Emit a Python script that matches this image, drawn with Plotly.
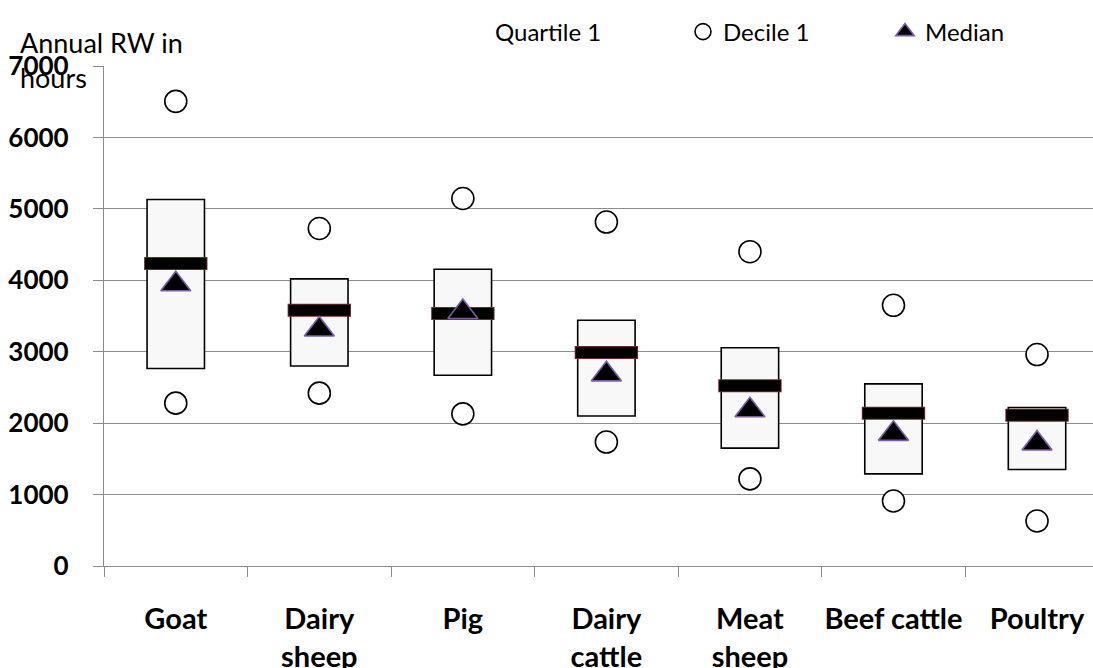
import plotly.graph_objects as go

# Annual RW (hours) distribution per livestock type
categories = ["Goat", "Dairy sheep", "Pig", "Dairy cattle", "Meat sheep", "Beef cattle", "Poultry"]
tick_labels = ["Goat", "Dairy<br>sheep", "Pig", "Dairy<br>cattle", "Meat<br>sheep", "Beef cattle", "Poultry"]

decile1 = [2280, 2420, 2130, 1735, 1220, 910, 630]
quartile1 = [2765, 2800, 2670, 2100, 1650, 1290, 1350]
quartile3 = [5130, 4020, 4155, 3440, 3055, 2550, 2220]
mean = [4235, 3580, 3535, 2990, 2525, 2140, 2112]
median = [3945, 3310, 3555, 2683, 2180, 1850, 1715]
decile9 = [6505, 4725, 5145, 4815, 4400, 3650, 2960]

y_ticks = [0, 1000, 2000, 3000, 4000, 5000, 6000, 7000]

FONT = "Lato"
GRID = "#8c8c8c"
SQRT2 = 2 ** 0.5

fig = go.Figure()

# invisible lower segment (0 -> Q1), only its legend label shows
fig.add_trace(go.Bar(
    x=categories, y=quartile1, width=0.4, name="Quartile 1",
    marker=dict(color="rgba(0,0,0,0)", line=dict(width=0)),
    hoverinfo="skip", legend="legend",
))

# interquartile box
fig.add_trace(go.Bar(
    x=categories, y=[q3 - q1 for q1, q3 in zip(quartile1, quartile3)], base=quartile1,
    width=0.4, name="Quartile 3", showlegend=False,
    marker=dict(color="#f8f8f8", line=dict(color="black", width=1.6)),
))

# mean bar: dark red rim under a black dash (line-ew spans size*sqrt2 px)
fig.add_trace(go.Scatter(
    x=categories, y=mean, mode="markers", showlegend=False, hoverinfo="skip",
    marker=dict(symbol="line-ew", size=64 / SQRT2, line=dict(color="#6b2a2a", width=13)),
))
fig.add_trace(go.Scatter(
    x=categories, y=mean, mode="markers", name="Mean", showlegend=False,
    marker=dict(symbol="line-ew", size=62 / SQRT2, line=dict(color="black", width=11)),
))

# deciles
fig.add_trace(go.Scatter(
    x=categories, y=decile1, mode="markers", name="Decile 1", legend="legend2",
    marker=dict(symbol="circle", size=22, color="white", line=dict(color="black", width=1.6)),
))
fig.add_trace(go.Scatter(
    x=categories, y=decile9, mode="markers", name="Decile 9", showlegend=False,
    marker=dict(symbol="circle", size=22, color="white", line=dict(color="black", width=1.6)),
))

# median
fig.add_trace(go.Scatter(
    x=categories, y=median, mode="markers", name="Median", legend="legend3",
    marker=dict(symbol="triangle-up", size=26, color="black", line=dict(color="#7a5ca8", width=1.6)),
))

legend_common = dict(
    orientation="h", yanchor="middle", y=1.068, xanchor="left",
    font=dict(family=FONT, size=24, color="black"), bgcolor="rgba(0,0,0,0)",
    itemwidth=30,
)

fig.update_layout(
    width=1093, height=668,
    margin=dict(l=104, r=0, t=66, b=102, autoexpand=False),
    paper_bgcolor="white", plot_bgcolor="white",
    barmode="overlay",
    font=dict(family=FONT, color="black"),
    legend=dict(x=(455 - 104) / 989, **legend_common),
    legend2=dict(x=(683 - 104) / 989, **legend_common),
    legend3=dict(x=(885 - 104) / 989, **legend_common),
    xaxis=dict(
        type="category", categoryorder="array", categoryarray=categories,
        tickvals=categories, ticktext=tick_labels,
        range=[-0.5, 6.39], tickson="boundaries", tickangle=0, automargin=False,
        ticks="outside", ticklen=10, tickcolor=GRID, tickwidth=1.3,
        showline=True, linecolor=GRID, linewidth=1.3,
        showgrid=False, zeroline=False,
        tickfont=dict(family=FONT, size=29, color="black", weight="bold"),
        ticklabelstandoff=27,
    ),
    yaxis=dict(
        range=[0, 7000], tickvals=y_ticks, automargin=False,
        ticks="outside", ticklen=10, tickcolor=GRID, tickwidth=1.3,
        showline=True, linecolor=GRID, linewidth=1.3,
        showgrid=True, gridcolor=GRID, gridwidth=1.3, zeroline=False,
        tickfont=dict(family=FONT, size=26, color="black", weight="bold"),
        ticklabelstandoff=19,
    ),
    annotations=[dict(
        text="Annual RW in<br>hours", xref="paper", yref="paper",
        x=(18 - 104) / 989, y=(566 - 24) / 500, xanchor="left", yanchor="top",
        align="left", showarrow=False,
        font=dict(family=FONT, size=27, color="black"),
    )],
)

fig.write_html("out.html")
